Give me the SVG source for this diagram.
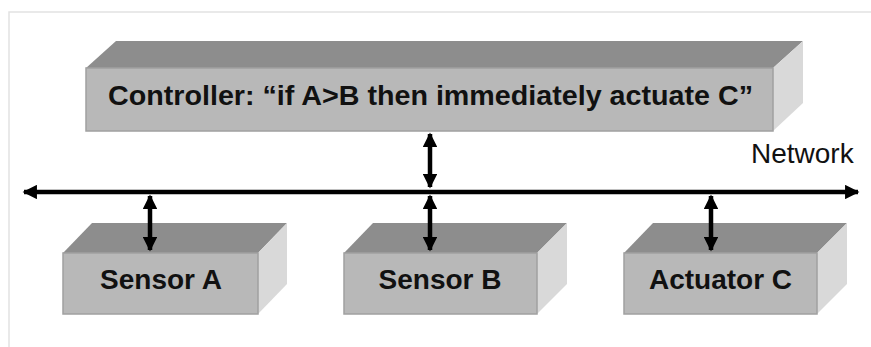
<svg xmlns="http://www.w3.org/2000/svg" width="871" height="347" viewBox="0 0 871 347">
<defs>
<style>
.front{fill:#b8b8b8;stroke:#a0a0a0;stroke-width:1.5}
.top{fill:#8d8d8d}
.side{fill:#d9d9d9}
.lbl{font-family:"Liberation Sans",Arial,sans-serif;font-weight:bold;font-size:28px;fill:#111;text-anchor:middle}
.net{font-family:"Liberation Sans",Arial,sans-serif;font-size:28px;fill:#111}
.conn{stroke:#000;stroke-width:4.5;fill:none}
</style>
<marker id="ah" viewBox="0 0 10 10" refX="9" refY="5" markerWidth="3.4" markerHeight="3.2" orient="auto-start-reverse" markerUnits="strokeWidth">
<path d="M0,0 L10,5 L0,10 z" fill="#000"/>
</marker>
</defs>
<rect width="871" height="347" fill="#ffffff"/>
<path d="M9,347 L9,12 L871,12" fill="none" stroke="#e2e2e2" stroke-width="1.5"/>

<g id="controller">
<polygon class="top" points="86,68 116,41 803,41 773,68"/>
<polygon class="side" points="773,68 803,41 803,103 773,131"/>
<rect class="front" x="86" y="68" width="687" height="63"/>
<text class="lbl" x="430.5" y="105" font-size="29" textLength="645" lengthAdjust="spacingAndGlyphs">Controller: “if A&gt;B then immediately actuate C”</text>
</g>

<g id="sensorA">
<polygon class="top" points="63,253 92,223 287,223 258,253"/>
<polygon class="side" points="258,253 287,223 287,284 258,314"/>
<rect class="front" x="63" y="253" width="195" height="61"/>
<text class="lbl" x="161" y="289">Sensor A</text>
</g>

<g id="sensorB">
<polygon class="top" points="344,253 373,223 567,223 537,253"/>
<polygon class="side" points="537,253 567,223 567,284 537,314"/>
<rect class="front" x="344" y="253" width="193" height="61"/>
<text class="lbl" x="440" y="289">Sensor B</text>
</g>

<g id="actuatorC">
<polygon class="top" points="624,253 653,223 847,223 817,253"/>
<polygon class="side" points="817,253 847,223 847,284 817,314"/>
<rect class="front" x="624" y="253" width="193" height="61"/>
<text class="lbl" x="720.5" y="289">Actuator C</text>
</g>

<g id="network">
<text class="net" x="751" y="163">Network</text>
</g>

<g id="connectors">
<line class="conn" x1="24" y1="192" x2="858" y2="192" marker-start="url(#ah)" marker-end="url(#ah)"/>
<line class="conn" x1="430" y1="134" x2="430" y2="187" marker-start="url(#ah)" marker-end="url(#ah)"/>
<line class="conn" x1="150" y1="196" x2="150" y2="250" marker-start="url(#ah)" marker-end="url(#ah)"/>
<line class="conn" x1="430" y1="196" x2="430" y2="250" marker-start="url(#ah)" marker-end="url(#ah)"/>
<line class="conn" x1="711" y1="196" x2="711" y2="250" marker-start="url(#ah)" marker-end="url(#ah)"/>
</g>
</svg>
